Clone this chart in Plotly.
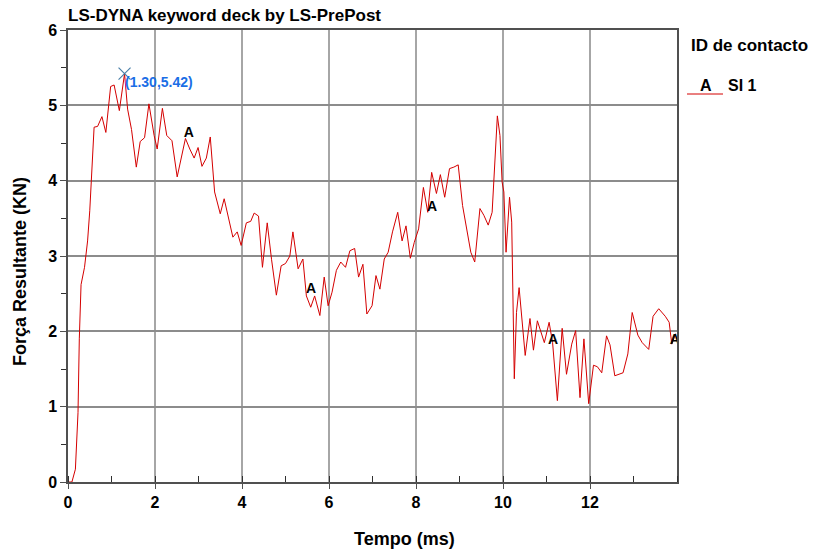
import plotly.graph_objects as go

# Curve data: time (ms) and resultant force (kN)
tempo = [0.0, 0.09, 0.17, 0.2, 0.23, 0.26, 0.3, 0.38, 0.45, 0.5, 0.55, 0.6, 0.68, 0.78, 0.87,
         0.98, 1.06, 1.18, 1.30, 1.37, 1.46, 1.57, 1.66, 1.76, 1.86, 1.98, 2.05, 2.17, 2.27,
         2.39, 2.51, 2.61, 2.7, 2.8, 2.9, 2.99, 3.08, 3.18, 3.27, 3.37, 3.5, 3.59, 3.72, 3.79,
         3.89, 3.98, 4.1, 4.2, 4.28, 4.38, 4.47, 4.58, 4.68, 4.79, 4.9, 5.0, 5.1, 5.17, 5.29,
         5.4, 5.48, 5.58, 5.67, 5.79, 5.89, 5.98, 6.07, 6.17, 6.27, 6.38, 6.48, 6.59, 6.68,
         6.78, 6.87, 6.99, 7.08, 7.17, 7.27, 7.36, 7.46, 7.58, 7.68, 7.77, 7.87, 7.96, 8.06,
         8.17, 8.27, 8.36, 8.47, 8.56, 8.66, 8.77, 8.87, 8.97, 9.07, 9.19, 9.26, 9.35, 9.47,
         9.56, 9.66, 9.75, 9.87, 9.93, 9.98, 10.02, 10.07, 10.15, 10.2, 10.26, 10.31, 10.37,
         10.42, 10.51, 10.62, 10.7, 10.79, 10.95, 11.06, 11.14, 11.25, 11.36, 11.46, 11.58,
         11.67, 11.77, 11.86, 11.97, 12.08, 12.17, 12.27, 12.38, 12.46, 12.57, 12.76, 12.87,
         12.97, 13.1, 13.2, 13.35, 13.45, 13.58, 13.73, 13.82, 13.88, 13.97]
forca = [0.0, 0.0, 0.17, 0.52, 0.92, 1.9, 2.62, 2.85, 3.2, 3.6, 4.1, 4.71, 4.72, 4.85, 4.64,
         5.25, 5.27, 4.93, 5.42, 4.95, 4.68, 4.18, 4.52, 4.57, 5.02, 4.6, 4.42, 4.96, 4.6,
         4.53, 4.05, 4.31, 4.56, 4.42, 4.3, 4.44, 4.19, 4.3, 4.58, 3.85, 3.56, 3.76, 3.4, 3.25,
         3.32, 3.14, 3.44, 3.46, 3.57, 3.53, 2.85, 3.44, 2.95, 2.48, 2.87, 2.9, 3.0, 3.32, 2.83,
         2.96, 2.47, 2.32, 2.47, 2.21, 2.72, 2.34, 2.52, 2.81, 2.92, 2.85, 3.07, 3.1, 2.72,
         2.89, 2.23, 2.34, 2.74, 2.56, 2.96, 3.05, 3.32, 3.58, 3.2, 3.4, 2.97, 3.18, 3.36,
         3.91, 3.58, 4.11, 3.83, 4.08, 3.78, 4.16, 4.18, 4.21, 3.67, 3.25, 3.05, 2.92, 3.63,
         3.54, 3.41, 3.58, 4.86, 4.6, 3.98, 3.85, 3.05, 3.78, 3.45, 1.37, 2.25, 2.58,
         2.24, 1.68, 2.17, 1.75, 2.14, 1.85, 2.12, 1.85, 1.08, 2.04, 1.43, 1.83,
         2.01, 1.12, 1.9, 1.04, 1.55, 1.53, 1.45, 1.94, 1.82, 1.41, 1.45, 1.7,
         2.25, 1.95, 1.85, 1.76, 2.2, 2.3, 2.2, 2.12, 1.83, 1.97]

# Curve labels "A" along the line
label_x = [2.78, 5.59, 8.37, 11.15, 13.95]
label_y = [4.63, 2.55, 3.64, 1.88, 1.88]

# Picked maximum point
pick_x = [1.30]
pick_y = [5.42]

FONT = "Liberation Sans, Arial, sans-serif"

fig = go.Figure()
fig.add_trace(go.Scatter(x=tempo, y=forca, mode="lines",
                         line=dict(color="#d40000", width=1), showlegend=False,
                         hoverinfo="skip"))
fig.add_trace(go.Scatter(x=label_x, y=label_y, mode="text", text=["<b>A</b>"] * len(label_x),
                         textfont=dict(family=FONT, size=14, color="black"),
                         showlegend=False, hoverinfo="skip"))
fig.add_trace(go.Scatter(x=pick_x, y=pick_y, mode="markers",
                         marker=dict(symbol="x-thin", size=12,
                                     line=dict(color="#4a7fa8", width=1.2)),
                         showlegend=False, hoverinfo="skip"))

W, H = 816, 551
L, R, T, B = 68, 139, 30, 69
pw, ph = W - L - R, H - T - B


def px(x):  # page pixel -> paper
    return (x - L) / pw


def py(y):
    return (H - B - y) / ph


annots = [
    dict(text="<b>LS-DYNA keyword deck by LS-PrePost</b>", x=px(66), y=py(15),
         xanchor="left", yanchor="middle", font=dict(size=17)),
    dict(text="<b>Força Resultante (KN)</b>", x=px(20), y=py(272), textangle=-90,
         xanchor="center", yanchor="middle", font=dict(size=18)),
    dict(text="<b>Tempo (ms)</b>", x=px(404), y=py(539), xanchor="center",
         yanchor="middle", font=dict(size=18)),
    dict(text="<b>ID de contacto</b>", x=px(689), y=py(45), xanchor="left",
         yanchor="middle", font=dict(size=17)),
    dict(text="<b>A</b>", x=px(706), y=py(86), xanchor="center",
         yanchor="middle", font=dict(size=16)),
    dict(text="<b>SI 1</b>", x=px(726), y=py(86), xanchor="left",
         yanchor="middle", font=dict(size=16)),
]
for a in annots:
    a.update(xref="paper", yref="paper", showarrow=False)
    a["font"].update(family=FONT, color="black")
annots.append(dict(text="<b>(%.2f,%.2f)</b>" % (pick_x[0], pick_y[0]), x=pick_x[0],
                   y=pick_y[0], xref="x", yref="y", xanchor="left", yanchor="middle",
                   xshift=-2, yshift=-8, showarrow=False,
                   font=dict(family=FONT, size=14, color="#1a6ee6")))

fig.add_shape(type="line", xref="paper", yref="paper", x0=px(687), x1=px(723),
              y0=py(94), y1=py(94), line=dict(color="#d40000", width=1))

fig.update_layout(
    width=W, height=H, margin=dict(l=L, r=R, t=T, b=B, pad=0),
    paper_bgcolor="white", plot_bgcolor="white",
    font=dict(family=FONT, color="black"),
    annotations=annots,
    xaxis=dict(range=[0, 14], tickvals=[0, 2, 4, 6, 8, 10, 12],
               ticktext=["<b>%d</b>" % v for v in [0, 2, 4, 6, 8, 10, 12]],
               tickfont=dict(size=16), showgrid=True, gridcolor="#a6a6a6", gridwidth=1.5,
               zeroline=False, showline=True, linecolor="#505050", linewidth=1.5,
               mirror=True, ticks="outside", ticklen=5, tickcolor="#505050",
               minor=dict(dtick=1, tick0=0, ticks="inside", ticklen=6, tickcolor="#303030",
                          showgrid=False)),
    yaxis=dict(range=[0, 6], tickvals=[0, 1, 2, 3, 4, 5, 6],
               ticktext=["<b>%d</b>" % v for v in range(7)],
               tickfont=dict(size=16), showgrid=True, gridcolor="#8c8c8c", gridwidth=1.5,
               zeroline=False, showline=True, linecolor="#505050", linewidth=1.5,
               mirror=True, ticks="outside", ticklen=6, tickcolor="#505050",
               minor=dict(dtick=0.5, tick0=0, ticks="outside", ticklen=5,
                          tickcolor="#303030", showgrid=False)),
)

fig.write_html("out.html", config={"displayModeBar": False},
               post_script="document.body.style.margin='0';document.body.style.overflow='hidden';")
